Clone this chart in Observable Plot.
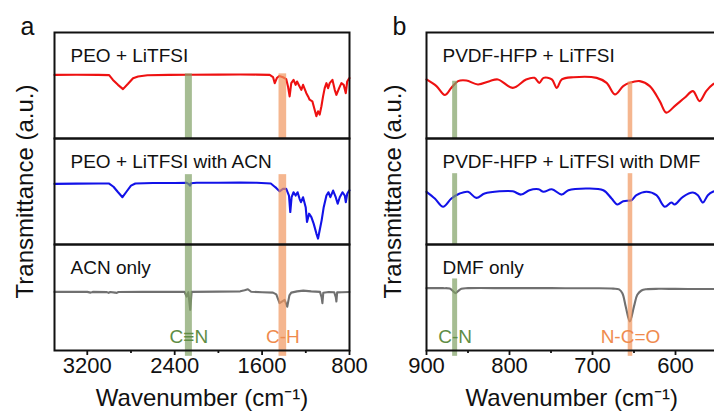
<!DOCTYPE html>
<html><head><meta charset="utf-8">
<script src="https://cdn.jsdelivr.net/npm/d3@7"></script>
<script src="https://cdn.jsdelivr.net/npm/@observablehq/plot@0.6"></script>
<style>
html,body{margin:0;padding:0;background:#fff;}
#wrap{position:relative;width:714px;height:414px;overflow:hidden;background:#fff;}
#pa,#pb{position:absolute;top:0;}
#pa{left:0;} #pb{left:355px;}
</style></head><body><div id="wrap"><div id="pa"></div><div id="pb"></div></div>
<script>
// ---------- Panel a data (wavenumber cm-1, transmittance a.u.) ----------
const aSamples = ["PEO + LiTFSI", "PEO + LiTFSI with ACN", "ACN only"];
const aTicks = [3200, 2400, 1600, 800];
const aMinorTicks = [2800, 2000, 1200];
const aPeoLitfsi = [[3500,60],[3300,60.2],[3100,60],[3000,59.8],[2965,55.3],[2919,50.6],[2873,46.6],[2827,51.6],[2781,56.9],[2735,58.5],[2650,59.6],[2450,60],[2270,60.2],[2000,60.3],[1800,60.4],[1650,60.3],[1530,60],[1500,58],[1484,52.2],[1465,57],[1443,59],[1409,57.8],[1379,56],[1363,49.1],[1348,39.7],[1333,52.2],[1312,55.3],[1293,50.6],[1280,53.8],[1257,49.1],[1241,45.9],[1225,50.6],[1195,42.8],[1179,39.7],[1165,36.6],[1140,35.1],[1119,27.2],[1103,21.0],[1088,25.7],[1073,22.5],[1057,30.4],[1042,39.7],[1027,47.5],[1011,52.2],[996,47.5],[981,52.2],[956,55.3],[935,45.9],[920,41.2],[895,47.5],[874,52.2],[853,50.6],[834,42.8],[821,53.8],[803,56.9],[800,57]];
const aPeoLitfsiAcn = [[3500,57.2],[3300,57.4],[3100,57.6],[3000,57.5],[2960,54.5],[2920,49.5],[2878,44.6],[2840,50],[2800,55.5],[2760,57.6],[2600,58],[2400,58],[2290,58.1],[2270,57],[2260,55.6],[2250,57.8],[2200,58.2],[2000,58.2],[1800,58.4],[1650,58.3],[1520,57.5],[1490,55],[1471,53.4],[1440,50.2],[1409,52.5],[1379,52.5],[1354,46.2],[1342,30.6],[1330,44.6],[1312,49.3],[1293,46.2],[1275,49.3],[1257,43.1],[1244,39.9],[1225,44.6],[1201,35.2],[1189,21.2],[1170,29.1],[1149,25.9],[1128,19.7],[1103,10.3],[1088,5.6],[1073,13.4],[1055,22.8],[1036,35.2],[1011,46.2],[993,49.3],[975,44.6],[950,50.9],[926,44.6],[908,38.4],[889,44.6],[864,49.3],[843,46.2],[834,39.9],[821,47.8],[803,50.9],[800,51]];
const aAcnOnly = [[3500,55.3],[3200,55.3],[3170,54.6],[3150,55.3],[3020,55.1],[3005,54.4],[2990,55.2],[2945,54.6],[2930,54.4],[2915,55.2],[2700,55.3],[2500,55.3],[2310,55.3],[2291,50.9],[2275,55],[2258,38.4],[2245,55.3],[2000,55.5],[1800,55.8],[1760,56.8],[1730,57.8],[1700,55.4],[1600,55],[1500,54.6],[1470,53],[1440,44.7],[1394,47.8],[1370,41.3],[1350,52],[1333,54.6],[1280,55.8],[1223,56.5],[1150,55.8],[1070,55.3],[1055,50],[1048,44.7],[1040,54.4],[990,55.2],[940,55],[925,50],[920,46.2],[913,54.8],[870,55],[800,55.2]];
const aBandNames = ["C≡N", "C-H"];
const aBandLo = [2238, 1375];
const aBandHi = [2302, 1445];
const aBandTops = [[61, 61], [65.9, 65.9], [100, 100]];

// ---------- Panel b data ----------
const bSamples = ["PVDF-HFP + LiTFSI", "PVDF-HFP + LiTFSI with DMF", "DMF only"];
const bTicks = [900, 800, 700, 600];
const bMinorTicks = [850, 750, 650, 550];
const bPvdfLitfsi = [[900,55.7],[888,49.4],[878,41.0],[870,47.8],[862,54.1],[852,54.7],[838,51.0],[824,54.1],[814,55.7],[796,47.8],[780,55.7],[770,57.2],[764,52.5],[759,57.2],[749,55.7],[743,47.8],[737,55.7],[723,57.8],[695,57.2],[683,52.5],[673,41.6],[663,49.4],[655,52.5],[643,54.1],[631,49.4],[619,35.3],[611,24.4],[601,30.6],[589,38.4],[579,44.7],[571,35.3],[563,44.7],[555,51.0],[550,53]];
const bPvdfLitfsiDmf = [[900,49.7],[890,43.4],[880,35.6],[870,43.4],[860,48.1],[850,49.7],[840,44.0],[830,48.1],[812,50.2],[796,50.2],[786,47.1],[776,51.2],[765,52.1],[759,49.7],[749,52.1],[737,47.1],[729,51.2],[707,52.8],[687,51.2],[677,43.4],[670,37.8],[663,40.9],[653,41.8],[647,46.5],[635,49.7],[623,46.5],[613,35.6],[605,39.6],[601,37.8],[591,45.0],[579,49.0],[573,46.5],[567,39.6],[561,46.5],[555,49.7],[550,50.5]];
const bDmfOnly = [[900,58.8],[880,58.8],[872,58.4],[868,56],[865,54.1],[862,56],[858,58.3],[850,58.8],[800,58.8],[750,58.8],[700,58.7],[675,58.4],[668,57.6],[664,54],[660,41.6],[655,27.4],[650,41.6],[646,52.5],[641,56.6],[635,57.8],[620,58.2],[600,58.1],[570,58],[550,58]];
const bBandNames = ["C-N", "N-C=O"];
const bBandLo = [862.5, 651.5];
const bBandHi = [868.5, 657];
const bBandTops = [[54, 53.4], [66.8, 66.8], [67.5, 100]];

// ---------- styles ----------
const traceColors = ["#ee1111", "#1212e8", "#707070"];
const bandFills = ["#80a165", "#f19760"];
const bandTextColors = ["#5f8d45", "#ef8b4e"];
const FONT = "'Liberation Sans', Arial, Helvetica, sans-serif";

function makePanel({el, letter, samples, traces, domain, ticks, minorTicks, bandNames, bandLo, bandHi, bandTops, width, marginLeft, marginRight, curve, yTitleDx}) {
  const last = samples[samples.length - 1];
  const marks = [];
  traces.forEach((t, i) => {
    const rows = t.map(([w, v]) => ({s: samples[i], w, v}));
    marks.push(Plot.line(rows, {x: "w", y: "v", fy: "s", stroke: traceColors[i], strokeWidth: 2.1, curve}));
  });
  bandNames.forEach((name, j) => {
    const rows = samples.map((s, i) => ({s, lo: bandLo[j], hi: bandHi[j], top: bandTops[i][j], bot: s === last ? -5.5 : 0}));
    marks.push(Plot.rect(rows, {x1: "lo", x2: "hi", y1: "bot", y2: "top", fy: "s", fill: bandFills[j], fillOpacity: 0.7}));
  });
  bandNames.forEach((name, j) => {
    marks.push(Plot.text([{s: last, x: (bandLo[j] + bandHi[j]) / 2, t: name}], {
      x: "x", y: () => 13, fy: "s", text: "t", fill: bandTextColors[j], fontSize: 19, lineAnchor: "middle"
    }));
  });
  marks.push(Plot.text(samples.map(s => ({s})), {fy: "s", text: "s", frameAnchor: "top-left", dx: 16, dy: 23.5, lineAnchor: "middle", textAnchor: "start", fontSize: 19, fill: "#111"}));
  marks.push(Plot.text([{s: samples[0], t: letter}], {fy: "s", text: "t", frameAnchor: "top-left", dx: -34, dy: 2, lineAnchor: "bottom", textAnchor: "start", fontSize: 25, fill: "#111"}));
  marks.push(Plot.text([{s: samples[1], t: "Transmittance (a.u.)"}], {fy: "s", text: "t", frameAnchor: "left", dx: yTitleDx, rotate: -90, lineAnchor: "middle", textAnchor: "middle", fontSize: 24, fill: "#111"}));
  marks.push(Plot.text([{s: last, t: "Wavenumber (cm⁻¹)"}], {fy: "s", text: "t", frameAnchor: "bottom", dy: 48, lineAnchor: "middle", textAnchor: "middle", fontSize: 24, fill: "#111"}));
  marks.push(Plot.axisX({ticks: minorTicks, tickSize: 3, tickFormat: () => "", strokeWidth: 1.8, stroke: "#111"}));
  marks.push(Plot.axisX({ticks, tickSize: 5, tickPadding: 2, tickFormat: d => String(d), strokeWidth: 1.8, fontSize: 22, fill: "#111", stroke: "#111", label: null}));
  marks.push(Plot.frame({stroke: "#111", strokeWidth: 2}));
  const chart = Plot.plot({
    width, height: 414, marginLeft, marginRight, marginTop: 31, marginBottom: 63,
    style: {fontFamily: FONT, fontSize: "19px", background: "transparent", overflow: "visible", maxWidth: "none"},
    x: {domain, label: null},
    y: {domain: [0, 100], axis: null},
    fy: {domain: samples, axis: null, padding: 0},
    marks
  });
  el.appendChild(chart);
}

makePanel({el: document.getElementById("pa"), letter: "a", samples: aSamples, traces: [aPeoLitfsi, aPeoLitfsiAcn, aAcnOnly],
  domain: [3500, 800], ticks: aTicks, minorTicks: aMinorTicks, bandNames: aBandNames, bandLo: aBandLo, bandHi: aBandHi, bandTops: aBandTops,
  width: 355, marginLeft: 54, marginRight: 6, curve: "linear", yTitleDx: -29});
makePanel({el: document.getElementById("pb"), letter: "b", samples: bSamples, traces: [bPvdfLitfsi, bPvdfLitfsiDmf, bDmfOnly],
  domain: [900, 550], ticks: bTicks, minorTicks: bMinorTicks, bandNames: bBandNames, bandLo: bBandLo, bandHi: bBandHi, bandTops: bBandTops,
  width: 375, marginLeft: 71, marginRight: 13.5, curve: "catmull-rom", yTitleDx: -33});
</script>
</body></html>
